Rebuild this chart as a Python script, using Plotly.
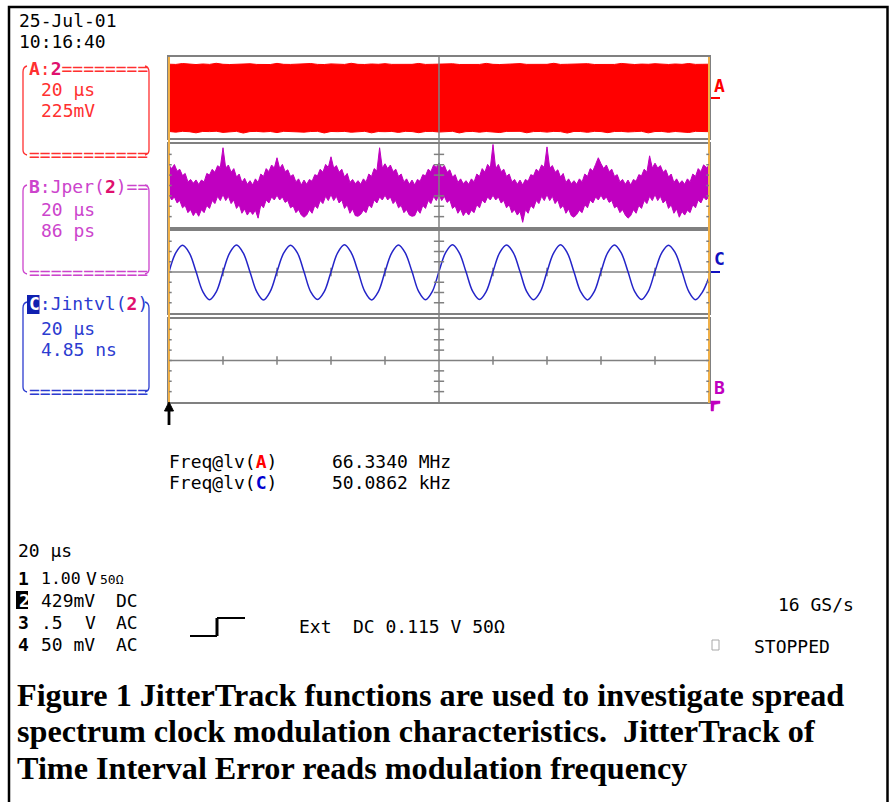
import plotly.graph_objects as go

W, H = 889, 802
MONO = "DejaVu Sans Mono"
SERIF = "Liberation Serif"

# ---------------- data ----------------
# Trace A: 66 MHz clock (mV) drawn as its envelope, sampled every 2.5 us
A_top = [740, 735, 755, 738, 732, 745, 736, 760, 738, 733, 742, 736, 750, 735, 740, 733,
         758, 737, 735, 744, 738, 755, 736, 733, 747, 739, 735, 760, 737, 734, 745, 738,
         752, 736, 733, 741, 737, 757, 735, 738, 743, 736, 750, 734, 739, 745, 735, 758,
         737, 733, 742, 738, 753, 736, 734, 746, 737, 760, 735, 739, 741, 736, 752, 734,
         738, 744, 735, 757, 737, 733, 743, 738, 751, 736, 734, 745, 737, 755, 736, 738, 740]
A_bot = [-755, -770, -752, -760, -785, -754, -758, -750, -775, -756, -752, -790, -757, -753,
         -765, -755, -780, -751, -758, -754, -770, -756, -752, -788, -755, -759, -753, -772,
         -757, -751, -785, -756, -760, -754, -776, -752, -757, -782, -755, -753, -768, -756,
         -751, -787, -758, -754, -771, -755, -759, -779, -753, -756, -752, -784, -757, -755,
         -769, -753, -758, -790, -754, -756, -774, -752, -757, -781, -755, -753, -766, -758,
         -751, -786, -756, -754, -773, -755, -759, -778, -752, -756, -760]

# Trace B: period jitter (ps), upper / lower envelope sampled every 1 us
B_upper = [168, 140, 174, 119, 134, 82, 100, 30, 50, 19, 46, 9, 45, 30, 100, 87, 134, 109, 164, 150,
           313, 145, 170, 110, 140, 70, 95, 25, 60, 10, 40, 5, 55, 25, 95, 75, 140, 115, 170, 145,
           230, 140, 175, 115, 130, 75, 90, 30, 55, 5, 45, 10, 50, 35, 90, 80, 135, 110, 175, 150,
           238, 145, 165, 110, 135, 70, 100, 25, 50, 15, 40, 10, 55, 30, 95, 75, 140, 120, 313, 145,
           180, 140, 170, 115, 135, 75, 95, 30, 55, 10, 45, 5, 50, 35, 90, 80, 135, 115, 170, 150,
           188, 145, 165, 110, 130, 70, 90, 25, 55, 15, 40, 10, 55, 30, 95, 75, 140, 110, 175, 145,
           340, 140, 175, 115, 135, 75, 95, 30, 50, 10, 45, 5, 50, 35, 90, 80, 135, 115, 170, 150,
           320, 145, 165, 110, 130, 70, 100, 25, 55, 15, 40, 10, 55, 30, 95, 75, 140, 120, 175, 230,
           180, 140, 170, 115, 135, 75, 90, 30, 50, 10, 45, 5, 50, 35, 90, 80, 135, 110, 246, 145,
           185, 145, 165, 110, 130, 70, 95, 25, 55, 15, 40, 10, 55, 30, 95, 75, 140, 115, 171, 150,
           160]
B_lower = [-80, -120, -95, -145, -125, -185, -165, -225, -200, -250, -215, -255, -200, -225, -165, -190, -125, -150, -90, -125,
           -75, -125, -90, -150, -120, -190, -160, -230, -195, -245, -210, -240, -205, -271, -160, -185, -120, -145, -95, -120,
           -80, -120, -95, -140, -125, -185, -170, -225, -200, -245, -263, -245, -200, -230, -165, -190, -125, -150, -90, -125,
           -75, -125, -90, -145, -120, -190, -160, -230, -195, -250, -255, -240, -205, -225, -160, -185, -120, -145, -95, -120,
           -80, -120, -95, -150, -125, -185, -165, -225, -200, -245, -255, -250, -200, -230, -165, -190, -125, -150, -90, -125,
           -75, -125, -90, -140, -120, -190, -170, -230, -195, -250, -215, -245, -205, -225, -160, -185, -120, -145, -95, -120,
           -80, -120, -95, -145, -125, -185, -160, -225, -200, -245, -215, -305, -200, -230, -165, -190, -125, -150, -90, -125,
           -75, -125, -90, -150, -120, -190, -165, -230, -195, -250, -263, -240, -205, -225, -160, -185, -120, -145, -95, -120,
           -80, -120, -95, -140, -125, -185, -170, -225, -200, -245, -271, -250, -200, -230, -165, -190, -125, -150, -90, -125,
           -75, -125, -90, -145, -120, -190, -160, -230, -195, -263, -215, -245, -205, -225, -160, -185, -120, -145, -95, -120,
           -90]

# Trace C: time interval error (ns), sampled every 2.5 us
C_tie = [0.0, 9.0, 12.6, 9.1, 0.2, -9.2, -13.1, -9.4,
         0.1, 9.1, 12.8, 9.0, 0.0, -9.3, -13.2, -9.2,
         0.2, 9.0, 12.7, 9.2, 0.1, -9.4, -13.0, -9.3,
         0.0, 9.2, 12.9, 9.1, 0.3, -9.2, -13.2, -9.4,
         0.1, 9.1, 12.8, 9.0, 0.2, -9.3, -13.1, -9.3,
         0.3, 9.3, 12.9, 9.1, 0.1, -9.2, -13.0, -9.2,
         0.2, 9.2, 12.8, 9.2, 0.2, -9.3, -13.1, -9.4,
         0.1, 9.1, 12.9, 9.1, 0.0, -9.4, -13.2, -9.3,
         0.2, 9.2, 12.8, 9.0, 0.1, -9.3, -13.0, -9.2,
         0.3, 9.1, 12.7, 9.1, 0.2, -9.2, -13.1, -9.6,
         -2.5]

SPAN_US = 200.0           # 10 div x 20 us
DIV_A, DIV_B, DIV_C, DIV_D = 225.0, 86.0, 4.85, 50.0   # per-division scales
NDIV_V = 8


def tbase(vals):
    n = len(vals) - 1
    return [SPAN_US * i / n for i in range(n + 1)]


tA, tB, tC = tbase(A_top), tbase(B_upper), tbase(C_tie)

# ---------------- helpers ----------------
def px(x):
    return x / W


def py(y):
    return 1 - y / H


def path_px(*toks):
    out = []
    for t in toks:
        if isinstance(t, str):
            out.append(t)
        else:
            out.append(f"{px(t[0]):.5f},{py(t[1]):.5f}")
    return " ".join(out)


GREY = "#808080"
ORANGE = "#f0b048"
RED_T = "#ff3030"
MAG_T = "#cc44cc"
BLUE_T = "#2c3cd0"
PINK = "#e0106e"

fig = go.Figure()
fig.add_trace(go.Scatter(x=tA, y=A_top, xaxis="x", yaxis="y", mode="lines",
                         line=dict(color="#ff0000", width=1), hoverinfo="skip"))
fig.add_trace(go.Scatter(x=tA, y=A_bot, xaxis="x", yaxis="y", mode="lines",
                         line=dict(color="#ff0000", width=1), fill="tonexty",
                         fillcolor="#ff0000", hoverinfo="skip"))
fig.add_trace(go.Scatter(x=tB, y=B_upper, xaxis="x2", yaxis="y2", mode="lines",
                         line=dict(color="#c000c0", width=1), hoverinfo="skip"))
fig.add_trace(go.Scatter(x=tB, y=B_lower, xaxis="x2", yaxis="y2", mode="lines",
                         line=dict(color="#c000c0", width=1), fill="tonexty",
                         fillcolor="#c000c0", hoverinfo="skip"))
fig.add_trace(go.Scatter(x=tC, y=C_tie, xaxis="x3", yaxis="y3", mode="lines",
                         line=dict(color="#2424c8", width=1.5, shape="spline"),
                         hoverinfo="skip"))

panels = [  # (suffix, top px, bottom px, per-div)
    ("", 57, 138, DIV_A),
    ("2", 144, 227, DIV_B),
    ("3", 231, 313, DIV_C),
    ("4", 319, 402, DIV_D),
]

layout = dict(width=W, height=H, margin=dict(l=0, r=0, t=0, b=0),
              paper_bgcolor="white", plot_bgcolor="white", showlegend=False)
shapes = []
ann = []

for suf, top, bot, div in panels:
    half = div * NDIV_V / 2
    ax_common = dict(showgrid=False, zeroline=False, showticklabels=False, ticks="",
                     showline=True, mirror=True, linecolor=GREY, linewidth=2, fixedrange=True)
    layout["xaxis" + suf] = dict(domain=[px(169), px(709)], range=[0, SPAN_US],
                                 anchor="y" + suf, **ax_common)
    layout["yaxis" + suf] = dict(domain=[py(bot), py(top)], range=[-half, half],
                                 anchor="x" + suf, **ax_common)
    xr, yr = "x" + suf, "y" + suf
    shapes.append(dict(type="line", xref=xr, yref=yr, x0=0, x1=SPAN_US, y0=0, y1=0,
                       line=dict(color=GREY, width=1.5), layer="below"))
    for k in range(1, 10):
        if k == 5:
            continue
        shapes.append(dict(type="line", xref=xr, yref=yr, x0=20 * k, x1=20 * k,
                           y0=-0.42 * div, y1=0.42 * div,
                           line=dict(color=GREY, width=1.5), layer="below"))
    if suf != "":
        for j in (-3, -2, -1, 1, 2, 3):
            shapes.append(dict(type="line", xref=xr, yref=yr, x0=98.1, x1=101.9,
                               y0=j * div, y1=j * div,
                               line=dict(color=GREY, width=1.5), layer="above"))

shapes.append(dict(type="line", xref="x", yref="paper", x0=100, x1=100,
                   y0=py(402), y1=py(57), line=dict(color=GREY, width=1.5), layer="above"))
for xx in (169, 709):
    shapes.append(dict(type="line", xref="paper", yref="paper", x0=px(xx), x1=px(xx),
                       y0=py(403), y1=py(57), line=dict(color=ORANGE, width=2), layer="above"))
for suf, top, bot, div in panels[1:]:
    for j in (-3, -2, -1, 0, 1, 2, 3):
        for x0, x1 in ((0, 1.0), (199.0, 200)):
            shapes.append(dict(type="line", xref="x" + suf, yref="y" + suf, x0=x0, x1=x1,
                               y0=j * div, y1=j * div,
                               line=dict(color=GREY, width=1.5), layer="above"))

# trigger arrow
shapes.append(dict(type="path", xref="paper", yref="paper",
                   path=path_px("M", (169, 402), "L", (164.5, 411), "L", (173.5, 411), "Z"),
                   fillcolor="black", line=dict(color="black", width=1)))
shapes.append(dict(type="rect", xref="paper", yref="paper", x0=px(167.6), x1=px(170.4),
                   y0=py(425), y1=py(410), fillcolor="black", line=dict(width=0)))

# right-side level markers
shapes.append(dict(type="line", xref="paper", yref="paper", x0=px(711), x1=px(720),
                   y0=py(98), y1=py(98), line=dict(color="#ff0000", width=2)))
shapes.append(dict(type="line", xref="paper", yref="paper", x0=px(711), x1=px(720),
                   y0=py(272), y1=py(272), line=dict(color="#1010c0", width=2)))
shapes.append(dict(type="path", xref="paper", yref="paper",
                   path=path_px("M", (711, 401), "L", (720, 401), "L", (720, 403.5),
                                "L", (714, 404.5), "L", (713.5, 411), "L", (711, 411), "Z"),
                   fillcolor="#c000c0", line=dict(color="#c000c0", width=0.5)))


def box_sides(top, bottom, color):
    for (xa, xb) in ((27, 23), (145, 149)):
        shapes.append(dict(type="path", xref="paper", yref="paper",
                           path=path_px("M", (xa, top - 2), "Q", (xb, top - 1), (xb, top + 4),
                                        "L", (xb, bottom - 4), "Q", (xb, bottom), (xa, bottom + 1)),
                           line=dict(color=color, width=1.3)))


box_sides(68, 154, RED_T)
box_sides(187, 273, MAG_T)
box_sides(304, 391, BLUE_T)

# inverse-video character blocks
shapes.append(dict(type="rect", xref="paper", yref="paper", x0=px(27), x1=px(39.5),
                   y0=py(314), y1=py(295), fillcolor="#1020b0", line=dict(width=0)))
shapes.append(dict(type="rect", xref="paper", yref="paper", x0=px(16), x1=px(28),
                   y0=py(609), y1=py(591), fillcolor="black", line=dict(width=0)))

for (x0, y0, x1, y1, w) in ((190, 636, 217, 636, 2), (217, 636, 217, 618, 3), (217, 618, 245, 618, 2)):
    shapes.append(dict(type="line", xref="paper", yref="paper", x0=px(x0), x1=px(x1),
                       y0=py(y0), y1=py(y1), line=dict(color="black", width=w)))

shapes.append(dict(type="rect", xref="paper", yref="paper", x0=px(712), x1=px(719),
                   y0=py(650), y1=py(640), line=dict(color="#a8a8a8", width=1)))

shapes.append(dict(type="rect", xref="paper", yref="paper", x0=px(9), x1=px(887.5),
                   y0=-0.05, y1=py(7), line=dict(color="black", width=2.5)))


def T(x, y, text, color="black", size=18, family=MONO):
    ann.append(dict(x=px(x), y=py(y), xref="paper", yref="paper", text=text,
                    showarrow=False, xanchor="left", yanchor="middle",
                    font=dict(family=family, size=size, color=color)))


def pink2():
    return f"<b><span style='color:{PINK}'>2</span></b>"


T(17, 21, "25-Jul-01")
T(17, 42, "10:16:40")

T(27, 68, f"<b>A</b>:{pink2()}========", RED_T)
T(39, 89, "20 µs", RED_T)
T(39, 110, "225mV", RED_T)
T(27, 154, "===========", RED_T)

T(27, 187, f"<b>B</b>:Jper({pink2()})==", MAG_T)
T(39, 209, "20 µs", MAG_T)
T(39, 230, "86 ps", MAG_T)
T(27, 273, "===========", MAG_T)

T(27, 304, f"<b><span style='color:white'>C</span></b>:Jintvl({pink2()})", BLUE_T)
T(39, 328, "20 µs", BLUE_T)
T(39, 349, "4.85 ns", BLUE_T)
T(27, 391, "===========", BLUE_T)

T(712, 85, "<b>A</b>", "#ff0000")
T(712, 258, "<b>C</b>", "#1010c0")
T(712, 387, "<b>B</b>", "#c000c0")

T(167, 461, "Freq@lv(<b><span style='color:#ff0000'>A</span></b>)")
T(330, 461, "66.3340 MHz")
T(167, 482, "Freq@lv(<b><span style='color:#0000d0'>C</span></b>)")
T(330, 482, "50.0862 kHz")

T(16, 550, "20 µs")
T(16, 578, "<b>1</b>")
T(39, 578, "1.00", size=16.5)
T(84, 578, "V")
T(98, 579, "50Ω", size=13)
T(16.5, 600, "<b><span style='color:white'>2</span></b>")
T(39, 600, "429mV")
T(114, 600, "DC")
T(16, 622, "<b>3</b>")
T(39, 622, ".5")
T(83, 622, "V")
T(114, 622, "AC")
T(16, 644, "<b>4</b>")
T(39, 644, "50 mV")
T(114, 644, "AC")

T(297, 626, "Ext")
T(351, 626, "DC 0.115 V 50Ω")
T(776, 604, "16 GS/s")
T(752, 646, "STOPPED")

T(15, 695, "<b>Figure 1 JitterTrack functions are used to investigate spread</b>", size=32.2, family=SERIF)
T(15, 731, "<b>spectrum clock modulation characteristics.\u00a0 JitterTrack of</b>", size=32.2, family=SERIF)
T(15, 768, "<b>Time Interval Error reads modulation frequency</b>", size=32.2, family=SERIF)

layout["shapes"] = shapes
layout["annotations"] = ann
fig.update_layout(**layout)
fig.write_html("out.html",
               config={"displayModeBar": False, "staticPlot": True},
               post_script="document.body.style.margin='0';document.body.style.padding='0';"
                           "document.body.style.overflow='hidden';")
